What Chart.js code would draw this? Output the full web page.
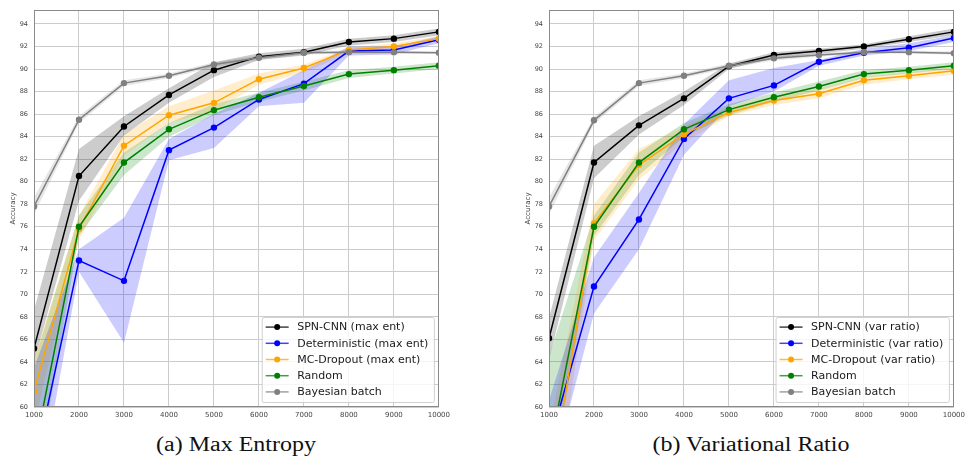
<!DOCTYPE html>
<html>
<head>
<meta charset="utf-8">
<script src="https://cdn.jsdelivr.net/npm/chart.js@4.4.1/dist/chart.umd.min.js"></script>
<style>
  html, body { margin: 0; padding: 0; background: #ffffff; }
  body { width: 969px; height: 457px; position: relative; overflow: hidden; }
  canvas { position: absolute; top: 0; }
  #chartA { left: 0px; }
  #chartB { left: 515px; }
  .cap { position: absolute; top: 434px; width: 400px; text-align: center;
         font-family: "Liberation Serif", "DejaVu Serif", serif; font-size: 20px;
         line-height: 20px; color: #111; transform: scaleX(1.2); transform-origin: center; }
</style>
</head>
<body>
<canvas id="chartA" width="454" height="425"></canvas>
<canvas id="chartB" width="454" height="425"></canvas>
<div class="cap" id="capA" style="left:36px;"></div>
<div class="cap" id="capB" style="left:551px;"></div>
<script>
// ---------- data ----------
const xValues = [1000, 2000, 3000, 4000, 5000, 6000, 7000, 8000, 9000, 10000];
const yTickValues = [60, 62, 64, 66, 68, 70, 72, 74, 76, 78, 80, 82, 84, 86, 88, 90, 92, 94];
const captionA = "(a) Max Entropy";
const captionB = "(b) Variational Ratio";
const yTitle = "Accuracy";

// (a) Max Entropy
const spnMaxEnt      = [65.2, 80.5, 84.9, 87.7, 89.9, 91.1, 91.5, 92.4, 92.7, 93.3];
const spnMaxEntLow   = [64.0, 78.3, 84.1, 87.0, 89.3, 90.8, 91.2, 92.1, 92.4, 93.0];
const spnMaxEntHigh  = [68.6, 82.9, 85.8, 88.3, 90.6, 91.4, 91.8, 92.7, 93.0, 93.6];
const detMaxEnt      = [54.5, 73.0, 71.2, 82.8, 84.8, 87.3, 88.7, 91.6, 91.7, 92.6];
const detMaxEntLow   = [50.0, 72.0, 65.7, 81.9, 83.0, 86.7, 87.0, 91.2, 91.3, 92.3];
const detMaxEntHigh  = [63.5, 74.0, 76.8, 83.8, 86.0, 87.9, 89.9, 92.0, 92.0, 92.9];
const mcMaxEnt       = [61.4, 75.8, 83.2, 85.9, 87.0, 89.1, 90.1, 91.7, 92.0, 92.7];
const mcMaxEntLow    = [58.5, 74.8, 82.3, 85.2, 86.3, 88.6, 89.7, 91.4, 91.8, 92.5];
const mcMaxEntHigh   = [64.3, 77.0, 84.2, 86.7, 88.1, 89.6, 90.4, 91.9, 92.3, 92.9];
const randomA        = [55.9, 76.0, 81.7, 84.65, 86.35, 87.5, 88.5, 89.55, 89.9, 90.3];
const randomALow     = [52.0, 75.2, 80.6, 84.0, 85.9, 87.1, 88.1, 89.2, 89.6, 90.0];
const randomAHigh    = [64.0, 77.0, 82.6, 85.2, 86.9, 87.9, 88.9, 89.9, 90.2, 90.6];
const bayesA         = [77.8, 85.5, 88.75, 89.4, 90.4, 91.0, 91.45, 91.5, 91.5, 91.45];
const bayesALow      = [77.1, 85.2, 88.5, 89.2, 90.2, 90.8, 91.3, 91.35, 91.35, 91.35];
const bayesAHigh     = [78.6, 85.8, 89.0, 89.6, 90.6, 91.2, 91.6, 91.65, 91.65, 91.55];

// (b) Variational Ratio
const spnVar         = [66.1, 81.7, 85.0, 87.4, 90.25, 91.25, 91.6, 92.0, 92.65, 93.3];
const spnVarLow      = [64.2, 80.3, 84.2, 86.8, 90.0, 90.95, 91.35, 91.8, 92.4, 93.0];
const spnVarHigh     = [67.9, 83.2, 85.8, 88.0, 90.5, 91.5, 91.8, 92.2, 92.9, 93.6];
const detVar         = [56.6, 70.7, 76.65, 83.8, 87.4, 88.55, 90.65, 91.45, 91.9, 92.75];
const detVarLow      = [53.0, 68.3, 74.0, 82.4, 86.7, 88.0, 90.3, 91.2, 91.6, 92.4];
const detVarHigh     = [60.6, 73.3, 79.0, 85.1, 89.0, 90.1, 90.8, 91.8, 92.3, 93.0];
const mcVar          = [52.5, 76.3, 81.5, 84.2, 86.15, 87.2, 87.8, 89.0, 89.4, 89.85];
const mcVarLow       = [48.0, 74.8, 80.2, 83.5, 85.8, 86.8, 87.4, 88.6, 89.1, 89.5];
const mcVarHigh      = [58.0, 78.0, 82.9, 84.9, 86.6, 87.6, 88.2, 89.3, 89.7, 90.2];
const randomB        = [55.9, 76.0, 81.7, 84.65, 86.4, 87.5, 88.45, 89.55, 89.9, 90.3];
const randomBLow     = [52.0, 75.2, 80.6, 84.0, 85.9, 87.1, 88.1, 89.2, 89.6, 90.0];
const randomBHigh    = [64.5, 77.0, 82.6, 85.2, 86.9, 87.9, 88.9, 89.9, 90.2, 90.6];
const bayesB         = [77.8, 85.45, 88.75, 89.4, 90.3, 90.95, 91.25, 91.5, 91.5, 91.4];
const bayesBLow      = [77.1, 85.15, 88.5, 89.2, 90.1, 90.75, 91.1, 91.35, 91.35, 91.3];
const bayesBHigh     = [78.6, 85.75, 89.0, 89.6, 90.5, 91.15, 91.4, 91.65, 91.65, 91.55];

// ---------- styling ----------
const COLORS = {
  black:  { line: '#000000', band: 'rgba(0,0,0,0.2)' },
  blue:   { line: '#0000ff', band: 'rgba(0,0,255,0.2)' },
  orange: { line: '#ffa500', band: 'rgba(255,165,0,0.2)' },
  green:  { line: '#008000', band: 'rgba(0,128,0,0.2)' },
  gray:   { line: '#808080', band: 'rgba(128,128,128,0.2)' }
};

function pts(arr) { return xValues.map((x, i) => ({ x: x, y: arr[i] })); }

function buildDatasets(series) {
  const ds = [];
  const n = series.length;
  series.forEach((s, k) => {
    const c = COLORS[s.color];
    ds.push({ data: pts(s.low), borderWidth: 0, borderColor: 'rgba(0,0,0,0)', pointRadius: 0,
              pointHoverRadius: 0, fill: false, order: 100 + k, clip: 0, legendItem: false });
    ds.push({ data: pts(s.high), borderWidth: 0, borderColor: 'rgba(0,0,0,0)', pointRadius: 0,
              pointHoverRadius: 0, fill: '-1', backgroundColor: c.band, order: 100 + k, clip: 0, legendItem: false });
  });
  series.forEach((s, k) => {
    const c = COLORS[s.color];
    ds.push({ label: s.label, data: pts(s.mean), borderColor: c.line, backgroundColor: c.line,
              borderWidth: 1.5, pointRadius: 3.2, pointBorderWidth: 0, pointHoverRadius: 3.2,
              fill: false, tension: 0, order: n - k, clip: 0, legendItem: true });
  });
  return ds;
}

const framePlugin = {
  id: 'frame',
  afterDatasetsDraw(chart) {
    const { ctx, chartArea: a } = chart;
    ctx.save();
    ctx.strokeStyle = '#8a8a8a';
    ctx.lineWidth = 1;
    ctx.strokeRect(Math.round(a.left) + 0.5, Math.round(a.top) + 0.5,
                   Math.round(a.right - a.left) - 1, Math.round(a.bottom - a.top) - 1);
    ctx.restore();
  }
};

const boxLegendPlugin = {
  id: 'boxLegend',
  afterDraw(chart) {
    const { ctx, chartArea: a } = chart;
    const items = chart.data.datasets.filter(d => d.legendItem);
    ctx.save();
    ctx.font = '11px "DejaVu Sans", sans-serif';
    const lineH = 16.2;
    const textW = Math.max(...items.map(d => ctx.measureText(d.label).width));
    const padL = 4, markW = 23, gap = 8.5, padR = 5.5;
    const w = padL + markW + gap + textW + padR;
    const h = items.length * lineH + 4;
    const x = a.right - 5 - w, y = a.bottom - 5 - h;
    ctx.fillStyle = 'rgba(255,255,255,0.8)';
    ctx.strokeStyle = '#d0d0d0';
    ctx.lineWidth = 1;
    ctx.beginPath();
    if (ctx.roundRect) ctx.roundRect(x + 0.5, y + 0.5, w, h, 2); else ctx.rect(x + 0.5, y + 0.5, w, h);
    ctx.fill();
    ctx.stroke();
    items.forEach((d, i) => {
      const cy = y + 2 + lineH * (i + 0.5);
      ctx.strokeStyle = d.borderColor;
      ctx.globalAlpha = 0.75;
      ctx.lineWidth = 1.5;
      ctx.beginPath();
      ctx.moveTo(x + padL, cy);
      ctx.lineTo(x + padL + markW, cy);
      ctx.stroke();
      ctx.globalAlpha = 1;
      ctx.fillStyle = d.borderColor;
      ctx.beginPath();
      ctx.arc(x + padL + markW / 2, cy, 3, 0, Math.PI * 2);
      ctx.fill();
      ctx.fillStyle = '#1a1a1a';
      ctx.textBaseline = 'middle';
      ctx.textAlign = 'left';
      ctx.fillText(d.label, x + padL + markW + gap, cy + 0.5);
    });
    ctx.restore();
  }
};

function makeChart(id, series, rightPad) {
  const ctx = document.getElementById(id).getContext('2d');
  return new Chart(ctx, {
    type: 'line',
    data: { datasets: buildDatasets(series) },
    plugins: [framePlugin, boxLegendPlugin],
    options: {
      responsive: false,
      animation: false,
      events: [],
      layout: { padding: { top: 9, right: rightPad, left: 0, bottom: 0 } },
      plugins: {
        legend: { display: false },
        tooltip: { enabled: false },
        filler: { drawTime: 'beforeDatasetsDraw' }
      },
      scales: {
        x: {
          type: 'linear', min: 1000, max: 10000,
          afterBuildTicks: s => { s.ticks = xValues.map(v => ({ value: v })); },
          afterFit: s => { s.height = 18; },
          ticks: { callback: v => String(v), font: { family: 'DejaVu Sans', size: 7 }, color: '#444', padding: 4, maxRotation: 0, autoSkip: false },
          grid: { color: '#cccccc', lineWidth: 1, drawTicks: false },
          border: { display: false }
        },
        y: {
          type: 'linear', min: 60, max: 95.25,
          afterBuildTicks: s => { s.ticks = yTickValues.map(v => ({ value: v })); },
          afterFit: s => { s.width = 34; },
          ticks: { font: { family: 'DejaVu Sans', size: 6.5 }, color: '#444', padding: 6, autoSkip: false },
          grid: { color: '#cccccc', lineWidth: 1, drawTicks: false },
          border: { display: false },
          title: { display: true, text: yTitle, font: { family: 'DejaVu Sans', size: 7 }, color: '#444', padding: { top: 9, bottom: 0 } }
        }
      }
    }
  });
}

makeChart('chartA', [
  { label: 'SPN-CNN (max ent)',       color: 'black',  mean: spnMaxEnt, low: spnMaxEntLow, high: spnMaxEntHigh },
  { label: 'Deterministic (max ent)', color: 'blue',   mean: detMaxEnt, low: detMaxEntLow, high: detMaxEntHigh },
  { label: 'MC-Dropout (max ent)',    color: 'orange', mean: mcMaxEnt,  low: mcMaxEntLow,  high: mcMaxEntHigh },
  { label: 'Random',                  color: 'green',  mean: randomA,   low: randomALow,   high: randomAHigh },
  { label: 'Bayesian batch',          color: 'gray',   mean: bayesA,    low: bayesALow,    high: bayesAHigh }
], 12);

makeChart('chartB', [
  { label: 'SPN-CNN (var ratio)',       color: 'black',  mean: spnVar, low: spnVarLow, high: spnVarHigh },
  { label: 'Deterministic (var ratio)', color: 'blue',   mean: detVar, low: detVarLow, high: detVarHigh },
  { label: 'MC-Dropout (var ratio)',    color: 'orange', mean: mcVar,  low: mcVarLow,  high: mcVarHigh },
  { label: 'Random',                    color: 'green',  mean: randomB, low: randomBLow, high: randomBHigh },
  { label: 'Bayesian batch',            color: 'gray',   mean: bayesB, low: bayesBLow, high: bayesBHigh }
], 11);

document.getElementById('capA').textContent = captionA;
document.getElementById('capB').textContent = captionB;
</script>
</body>
</html>
